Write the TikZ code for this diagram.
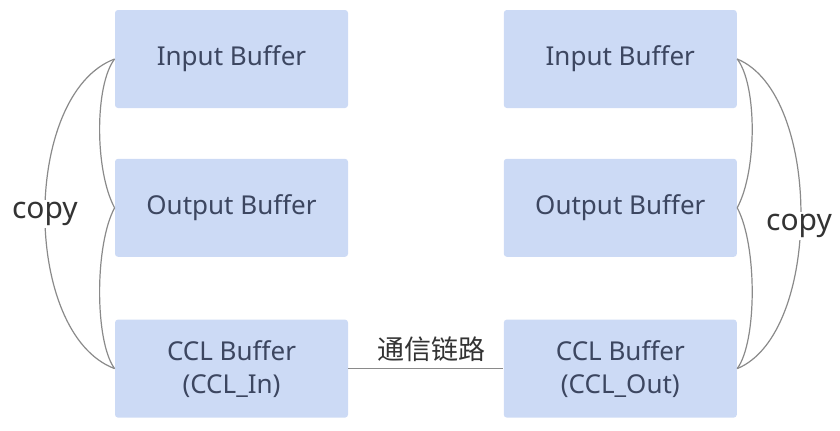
\documentclass[tikz,border=0pt]{standalone}
\usepackage{fontspec}
\setmainfont{Noto Sans}
\newfontfamily\cjk{Noto Sans CJK SC}
\usepackage{xcolor}
\usepackage{tikz}
\usetikzlibrary{positioning}
\definecolor{boxblue}{HTML}{CCDAF5}
\definecolor{boxtext}{HTML}{3C4660}
\definecolor{linegray}{HTML}{8A8A8A}

\begin{document}
\begin{tikzpicture}[
    x=0.5pt, y=-0.5pt,
    box/.style={rectangle, rounded corners=1.5pt, fill=boxblue, text=boxtext, minimum width=116.5pt, minimum height=49pt, inner sep=0pt, align=center, font=\fontsize{13}{16.5}\selectfont},
    link/.style={draw=linegray, line width=0.6pt},
    copytext/.style={fill=white, inner sep=1pt, text=black!80, font=\fontsize{15}{18}\selectfont}
]
\useasboundingbox (0,0) rectangle (840,430);

\node[box] (inL) at (231.5,59) {Input Buffer};
\node[box, below=25pt of inL] (outL) {Output Buffer};
\node[box, below=31pt of outL] (cclL) {CCL Buffer\\(CCL\_In)};
\node[box, right=77.5pt of inL] (inR) {Input Buffer};
\node[box, below=25pt of inR] (outR) {Output Buffer};
\node[box, below=31pt of outR] (cclR) {CCL Buffer\\(CCL\_Out)};

\draw[link] (cclL) -- node[above, xshift=3pt, text=black!80, font=\cjk\fontsize{13.5}{16}\selectfont] {通信链路} (cclR);

% left side copy
\draw[link] (inL.west) .. controls +(-20,26) and +(-20,-37) .. (outL.west);
\draw[link] (outL.west) .. controls +(-20,37) and +(-20,-27) .. (cclL.west);
\draw[link] (inL.west) .. controls +(-93,35) and +(-93,-35) .. node[copytext] {copy} (cclL.west);

% right side copy
\draw[link] (inR.east) .. controls +(20,26) and +(20,-37) .. (outR.east);
\draw[link] (outR.east) .. controls +(20,37) and +(20,-27) .. (cclR.east);
\draw[link] (inR.east) .. controls +(85,35) and +(85,-35) .. node[copytext, xshift=-1pt, yshift=-6pt] {copy} (cclR.east);

\end{tikzpicture}
\end{document}
